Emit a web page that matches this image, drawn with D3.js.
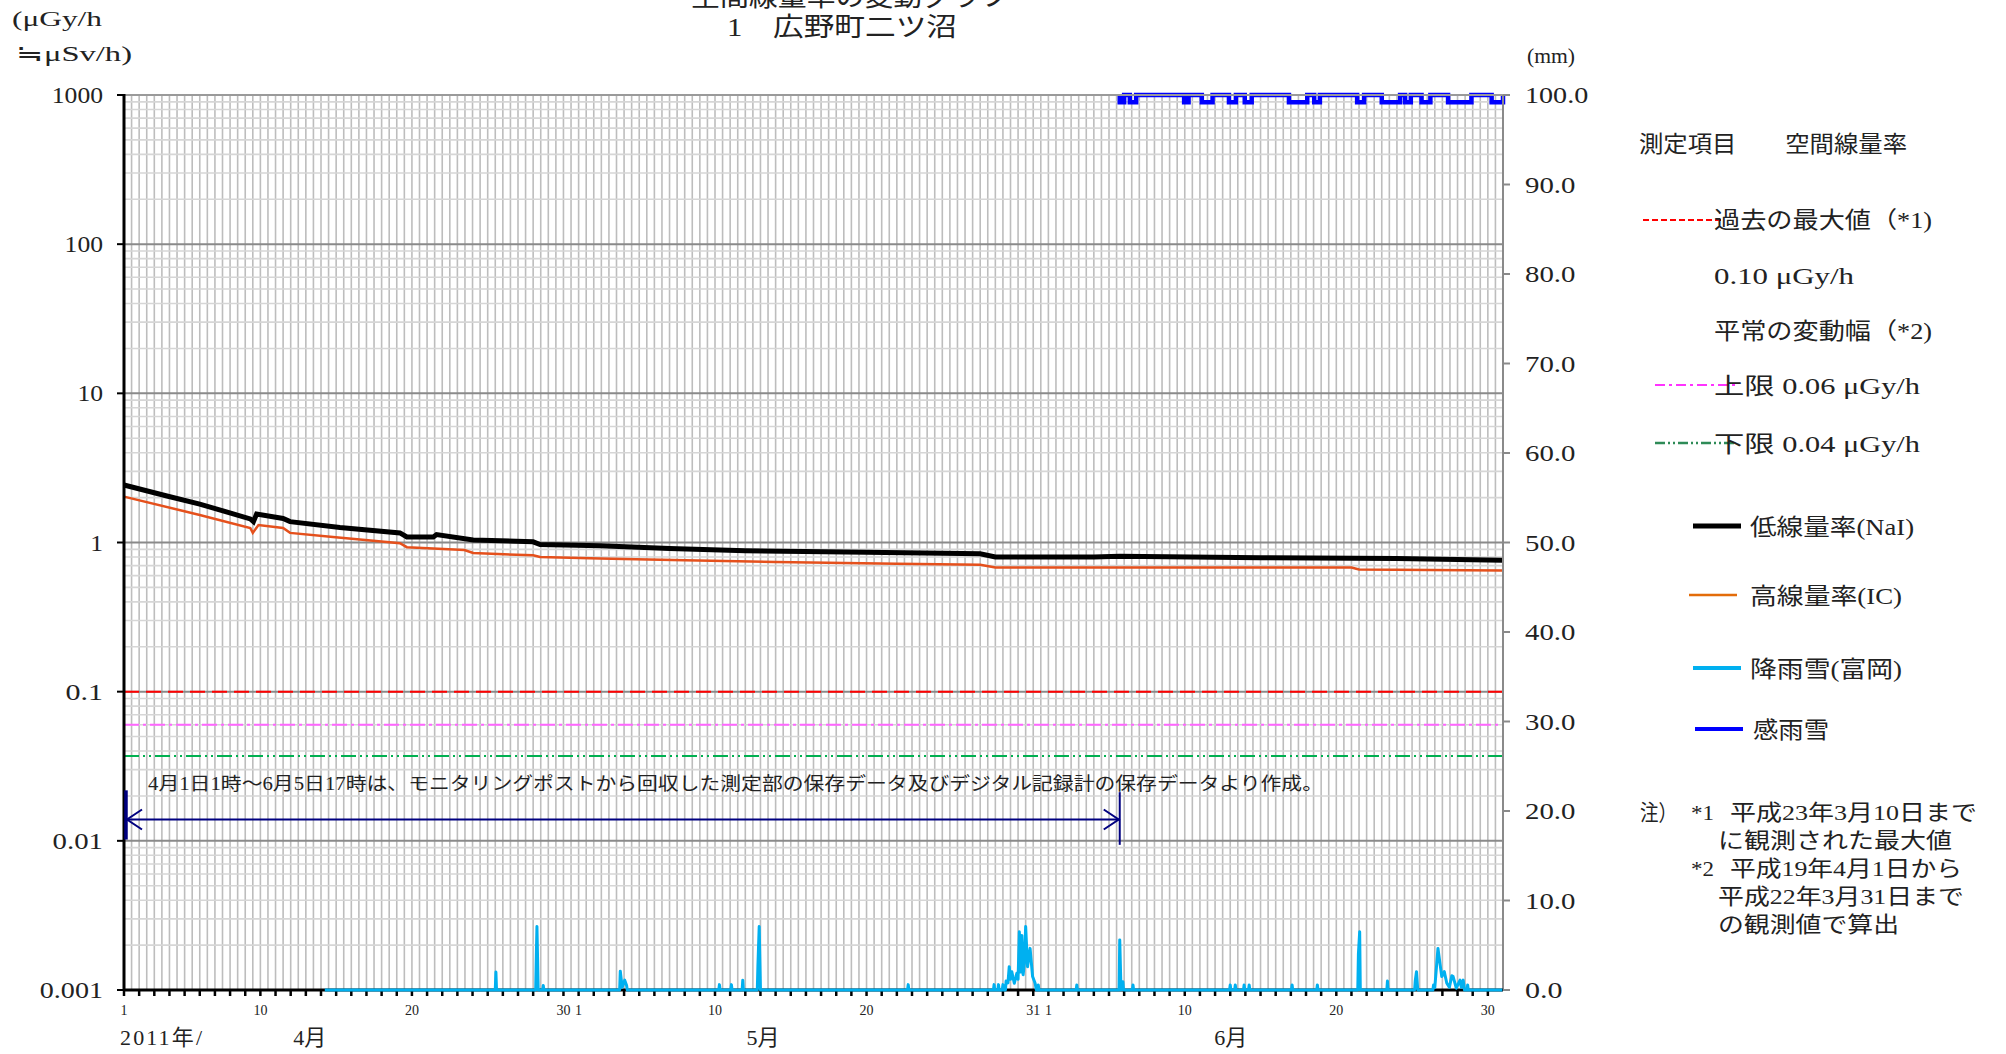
<!DOCTYPE html>
<meta charset="utf-8">
<head>
  <style>
    body { margin: 0; background: #fff; }
    text { font-family: "Liberation Serif", "Noto Sans CJK JP", serif; fill: #222; }
  </style>
  <script src="https://cdn.jsdelivr.net/npm/d3@7"></script>
</head>
<body>
<div id="chart"></div>
<script>
  // *** data (times are 2011 "M/D H")
  var nai = [
    ["4/1 0", 2.43], ["4/3 20", 2.05], ["4/6 0", 1.81], ["4/9 8", 1.44], ["4/9 13", 1.38],
    ["4/9 18", 1.55], ["4/11 12", 1.45], ["4/11 23", 1.38], ["4/15 6", 1.26], ["4/19 5", 1.16],
    ["4/19 16", 1.09], ["4/21 10", 1.09], ["4/21 15", 1.13], ["4/24 1", 1.04], ["4/28 0", 1.01],
    ["4/28 11", 0.97], ["5/2 10", 0.95], ["5/7 0", 0.91], ["5/12 0", 0.88], ["5/20 0", 0.86],
    ["5/27 12", 0.84], ["5/28 12", 0.80], ["6/4 0", 0.80], ["6/5 17", 0.81], ["6/15 0", 0.79],
    ["6/24 0", 0.78], ["6/30 23", 0.76]
  ];
  var ic = [
    ["4/1 0", 2.03], ["4/6 0", 1.53], ["4/9 8", 1.25], ["4/9 12", 1.16], ["4/9 21", 1.31],
    ["4/11 12", 1.25], ["4/11 23", 1.16], ["4/14 19", 1.09], ["4/19 5", 0.99], ["4/19 16", 0.93],
    ["4/23 11", 0.89], ["4/24 1", 0.85], ["4/28 0", 0.82], ["4/28 11", 0.80], ["5/2 10", 0.78],
    ["5/8 0", 0.76], ["5/14 0", 0.74], ["5/22 0", 0.72], ["5/27 12", 0.71], ["5/28 12", 0.68],
    ["6/10 0", 0.68], ["6/21 0", 0.68], ["6/21 12", 0.66], ["6/30 23", 0.65]
  ];
  var rain = [
    ["4/14 6", 0],
    ["4/25 12", 0], ["4/25 13", 2.0], ["4/25 14", 0],
    ["4/28 4", 0], ["4/28 5", 3.7], ["4/28 6", 7.1], ["4/28 8", 0],
    ["4/28 15", 0], ["4/28 16", 0.5], ["4/28 17", 0],
    ["5/3 17", 0], ["5/3 18", 2.1], ["5/3 21", 0.3], ["5/4 1", 1.1], ["5/4 4", 0.5], ["5/4 5", 0],
    ["5/10 6", 0], ["5/10 7", 0.6], ["5/10 8", 0],
    ["5/11 1", 0], ["5/11 2", 0.6], ["5/11 3", 0],
    ["5/11 19", 0], ["5/11 20", 1.1], ["5/11 21", 0],
    ["5/12 19", 0], ["5/12 20", 2.8], ["5/12 22", 7.1], ["5/13 0", 0],
    ["5/22 17", 0], ["5/22 18", 0.6], ["5/22 19", 0],
    ["5/28 9", 0], ["5/28 10", 0.6], ["5/28 11", 0],
    ["5/28 16", 0], ["5/28 17", 0.6], ["5/28 18", 0],
    ["5/28 23", 0], ["5/29 0", 0.6], ["5/29 1", 0],
    ["5/29 4", 0], ["5/29 5", 1.0], ["5/29 8", 0.8], ["5/29 10", 2.6], ["5/29 12", 1.2],
    ["5/29 14", 2.05], ["5/29 18", 0.75], ["5/29 22", 1.86], ["5/30 0", 1.2], ["5/30 2", 6.5],
    ["5/30 4", 2.0], ["5/30 6", 6.1], ["5/30 8", 1.7], ["5/30 10", 3.0], ["5/30 12", 7.1],
    ["5/30 15", 2.6], ["5/30 19", 4.65], ["5/30 23", 1.5], ["5/31 3", 0.75], ["5/31 5", 0],
    ["5/31 7", 0], ["5/31 8", 0.56], ["5/31 9", 0],
    ["6/2 20", 0], ["6/2 21", 0.56], ["6/2 22", 0],
    ["6/5 16", 0], ["6/5 17", 5.6], ["6/5 19", 0], ["6/5 22", 0.93], ["6/5 23", 0],
    ["6/6 13", 0], ["6/6 14", 0.56], ["6/6 15", 0],
    ["6/12 23", 0], ["6/13 0", 0.56], ["6/13 1", 0],
    ["6/13 7", 0], ["6/13 8", 0.56], ["6/13 9", 0],
    ["6/13 21", 0], ["6/13 22", 0.56], ["6/13 23", 0],
    ["6/14 5", 0], ["6/14 6", 0.56], ["6/14 7", 0],
    ["6/17 1", 0], ["6/17 2", 0.56], ["6/17 3", 0],
    ["6/18 17", 0], ["6/18 18", 0.56], ["6/18 19", 0],
    ["6/21 10", 0], ["6/21 11", 4.0], ["6/21 13", 6.5], ["6/21 14", 0],
    ["6/23 8", 0], ["6/23 9", 1.0], ["6/23 10", 0],
    ["6/25 4", 0], ["6/25 5", 1.0], ["6/25 7", 2.05], ["6/25 9", 0],
    ["6/26 9", 0], ["6/26 10", 0.56], ["6/26 12", 0.3], ["6/26 17", 4.65], ["6/26 23", 1.5],
    ["6/27 3", 2.05], ["6/27 7", 0.75], ["6/27 11", 0.3], ["6/27 15", 1.6], ["6/27 17", 1.5],
    ["6/27 22", 0.2], ["6/28 4", 1.1], ["6/28 6", 0.3], ["6/28 9", 1.1], ["6/28 11", 0],
    ["6/28 15", 0], ["6/28 16", 0.56], ["6/28 17", 0],
    ["6/30 23", 0]
  ];
  // 感雨雪: 100 while dry, lower during these spells
  var senseStart = "6/5 17", senseEnd = "7/1 0";
  var senseDips = [
    ["6/5 17", "6/6 0"], ["6/6 9", "6/6 19"], ["6/9 23", "6/10 6"], ["6/11 3", "6/11 20"],
    ["6/12 22", "6/13 9"], ["6/13 23", "6/14 10"], ["6/16 21", "6/18 2"], ["6/18 13", "6/18 22"],
    ["6/21 9", "6/21 20"], ["6/23 0", "6/24 5"], ["6/24 13", "6/24 22"], ["6/25 15", "6/26 5"],
    ["6/27 9", "6/28 22"], ["6/30 6", "7/1 0"]
  ];
  var senseHigh = 100, senseLow = 99.2;
  var maxPast = 0.10, upperLimit = 0.06, lowerLimit = 0.037;
  var leftTicks = [0.001, 0.01, 0.1, 1, 10, 100, 1000];
  var rightTicks = [0, 10, 20, 30, 40, 50, 60, 70, 80, 90, 100];
  var dayLabels = [["4/1", "1"], ["4/10", "10"], ["4/20", "20"], ["4/30", "30"], ["5/1", "1"],
    ["5/10", "10"], ["5/20", "20"], ["5/31", "31"], ["6/1", "1"], ["6/10", "10"],
    ["6/20", "20"], ["6/30", "30"]];
  var monthLabels = [["4/13 6", "4月"], ["5/13 4", "5月"], ["6/13 1", "6月"]];
  var recovered = ["4/1 0", "6/5 17"];

  // *** helpers
  var parse = d3.timeParse("%Y/%m/%d %H");
  function t(s) { return parse("2011/" + (s.indexOf(" ") < 0 ? s + " 0" : s)); }

  var W = 2006, H = 1054;
  var L = 124, R = 1503, T = 95, B = 990;

  var x = d3.scaleTime().domain([t("4/1 0"), t("7/1 0")]).range([L, R]);
  var y = d3.scaleLog().domain([0.001, 1000]).range([B, T]);
  var yR = d3.scaleLinear().domain([0, 100]).range([B, T]);

  var svg = d3.select("#chart").append("svg")
    .attr("width", W).attr("height", H)
    .style("display", "block");
  svg.append("rect").attr("width", W).attr("height", H).attr("fill", "#fff");

  // *** grid
  var grid = svg.append("g");
  grid.selectAll(".vg")
    .data(d3.timeHour.every(12).range(t("4/1 12"), t("7/1 0")))
    .enter().append("line")
    .attr("x1", function(d) { return x(d); }).attr("x2", function(d) { return x(d); })
    .attr("y1", T).attr("y2", B)
    .attr("stroke", "#bdbdbd").attr("stroke-width", 1.6);

  var minor = y.ticks().filter(function(v) { return leftTicks.indexOf(v) < 0; });
  grid.selectAll(".hg")
    .data(minor)
    .enter().append("line")
    .attr("x1", L).attr("x2", R)
    .attr("y1", function(d) { return y(d); }).attr("y2", function(d) { return y(d); })
    .attr("stroke", "#d6d6d6").attr("stroke-width", 1.6);
  grid.selectAll(".hM")
    .data(leftTicks.slice(1))
    .enter().append("line")
    .attr("x1", L).attr("x2", R)
    .attr("y1", function(d) { return y(d); }).attr("y2", function(d) { return y(d); })
    .attr("stroke", "#8a8a8a").attr("stroke-width", 2);

  // *** reference lines
  function hline(v, color, dash) {
    svg.append("line")
      .attr("x1", L).attr("x2", R).attr("y1", y(v)).attr("y2", y(v))
      .attr("stroke", color).attr("stroke-width", 2).attr("stroke-dasharray", dash);
  }
  hline(maxPast, "#ff0000", "15,7");
  hline(upperLimit, "#ff66ff", "15,4,3,4");
  hline(lowerLimit, "#00b050", "15,4,2,4,2,4");

  // *** series
  function pts(arr) { return arr.map(function(d) { return [t(d[0]), d[1]]; }); }

  var lineL = d3.line().x(function(d) { return x(d[0]); }).y(function(d) { return y(d[1]); });
  var lineR = d3.line().x(function(d) { return x(d[0]); }).y(function(d) { return yR(d[1]); });

  // sense (感雨雪) as a step series
  var sense = [[t(senseStart), senseHigh]];
  senseDips.forEach(function(p) {
    sense.push([t(p[0]), senseHigh], [t(p[0]), senseLow], [t(p[1]), senseLow], [t(p[1]), senseHigh]);
  });
  sense.push([t(senseEnd), senseHigh]);
  sense.sort(function(a, b) { return a[0] - b[0]; });
  svg.append("path").datum(sense)
    .attr("d", lineR).attr("fill", "none")
    .attr("stroke", "#0000ff").attr("stroke-width", 4.5);

  svg.append("path").datum(pts(ic))
    .attr("d", lineL).attr("fill", "none")
    .attr("stroke", "#e5501c").attr("stroke-width", 2.5);
  svg.append("path").datum(pts(nai))
    .attr("d", lineL).attr("fill", "none")
    .attr("stroke", "#000").attr("stroke-width", 5);

  // *** axes
  svg.append("line").attr("x1", L).attr("x2", R).attr("y1", T).attr("y2", T)
    .attr("stroke", "#9a9a9a").attr("stroke-width", 2);
  svg.append("line").attr("x1", R).attr("x2", R).attr("y1", T).attr("y2", B)
    .attr("stroke", "#8a8a8a").attr("stroke-width", 2);
  svg.selectAll(".rt").data(rightTicks).enter().append("line")
    .attr("x1", R).attr("x2", R + 7)
    .attr("y1", function(d) { return yR(d); }).attr("y2", function(d) { return yR(d); })
    .attr("stroke", "#8a8a8a").attr("stroke-width", 2);

  // bottom (days)
  svg.selectAll(".xt").data(d3.timeDay.range(t("4/1 0"), t("7/1 0"))).enter().append("line")
    .attr("x1", function(d) { return x(d); }).attr("x2", function(d) { return x(d); })
    .attr("y1", B).attr("y2", B + 6)
    .attr("stroke", "#000").attr("stroke-width", 2.5);
  svg.append("line").attr("x1", L).attr("x2", R).attr("y1", B).attr("y2", B)
    .attr("stroke", "#000").attr("stroke-width", 3);
  // rain (富岡) sits on top of the axis
  svg.append("path").datum(pts(rain))
    .attr("d", lineR).attr("fill", "none")
    .attr("stroke", "#00b0f0").attr("stroke-width", 3).attr("stroke-linejoin", "round");

  svg.append("line").attr("x1", L).attr("x2", L).attr("y1", T - 1).attr("y2", B + 1)
    .attr("stroke", "#000").attr("stroke-width", 3);
  svg.selectAll(".lt").data(leftTicks).enter().append("line")
    .attr("x1", L - 7).attr("x2", L)
    .attr("y1", function(d) { return y(d); }).attr("y2", function(d) { return y(d); })
    .attr("stroke", "#000").attr("stroke-width", 2);

  // label width like the wide Mincho digits
  function numWidth(s) {
    var n = 0;
    for (var i = 0; i < s.length; i++) n += (s[i] === "." ? 12 : 12.8);
    return n;
  }
  svg.selectAll(".ll").data(leftTicks).enter().append("text")
    .attr("x", 103).attr("y", function(d) { return y(d) + 8; })
    .attr("text-anchor", "end").attr("font-size", 23)
    .attr("textLength", function(d) { return numWidth(String(d)); })
    .attr("lengthAdjust", "spacingAndGlyphs")
    .text(function(d) { return String(d); });
  svg.selectAll(".rl").data(rightTicks).enter().append("text")
    .attr("x", 1525).attr("y", function(d) { return yR(d) + 8; })
    .attr("font-size", 23)
    .attr("textLength", function(d) { return numWidth(d.toFixed(1)); })
    .attr("lengthAdjust", "spacingAndGlyphs")
    .text(function(d) { return d.toFixed(1); });

  svg.selectAll(".dl").data(dayLabels).enter().append("text")
    .attr("x", function(d) { return x(t(d[0])); }).attr("y", 1015)
    .attr("text-anchor", "middle").attr("font-size", 14)
    .text(function(d) { return d[1]; });
  svg.selectAll(".ml").data(monthLabels).enter().append("text")
    .attr("x", function(d) { return x(t(d[0])); }).attr("y", 1045)
    .attr("text-anchor", "middle").attr("font-size", 22)
    .text(function(d) { return d[1]; });
  svg.append("text").attr("x", 120).attr("y", 1045).attr("font-size", 22)
    .attr("textLength", 82).text("2011年/");

  // *** titles and units
  function label(str, px, py, size, len) {
    var e = svg.append("text").attr("x", px).attr("y", py).attr("font-size", size).text(str);
    if (len) e.attr("textLength", len).attr("lengthAdjust", "spacingAndGlyphs");
    return e;
  }
  label("空間線量率の変動グラフ", 691, 6, 26, 318);
  label("1　広野町二ツ沼", 727, 36, 26, 230);
  label("(μGy/h", 12, 26, 21, 90);
  label("≒μSv/h)", 16, 61, 21, 116);
  label("(mm)", 1527, 63, 22, 48);

  // *** recovered-data note with arrow
  var navy = "#000080";
  var ax0 = x(t(recovered[0])) + 2, ax1 = x(t(recovered[1]));
  var ay = y(0.0139);
  svg.append("line").attr("x1", ax0).attr("x2", ax0).attr("y1", y(0.0218)).attr("y2", y(0.0102))
    .attr("stroke", navy).attr("stroke-width", 3.5);
  svg.append("line").attr("x1", ax1).attr("x2", ax1).attr("y1", y(0.0212)).attr("y2", y(0.0094))
    .attr("stroke", navy).attr("stroke-width", 2);
  svg.append("line").attr("x1", ax0).attr("x2", ax1).attr("y1", ay).attr("y2", ay)
    .attr("stroke", navy).attr("stroke-width", 2);
  svg.append("path")
    .attr("d", "M" + (ax0 + 16) + "," + (ay - 10) + "L" + (ax0 + 1) + "," + ay + "L" + (ax0 + 16) + "," + (ay + 10))
    .attr("fill", "none").attr("stroke", navy).attr("stroke-width", 2);
  svg.append("path")
    .attr("d", "M" + (ax1 - 16) + "," + (ay - 10) + "L" + (ax1 - 1) + "," + ay + "L" + (ax1 - 16) + "," + (ay + 10))
    .attr("fill", "none").attr("stroke", navy).attr("stroke-width", 2);
  label("4月1日1時～6月5日17時は、モニタリングポストから回収した測定部の保存データ及びデジタル記録計の保存データより作成。",
    148, 790, 18, 1175);

  // *** legend
  var lg = svg.append("g");
  function lgLine(x1, x2, ly, color, w, dash) {
    lg.append("line").attr("x1", x1).attr("x2", x2).attr("y1", ly).attr("y2", ly)
      .attr("stroke", color).attr("stroke-width", w).attr("stroke-dasharray", dash || null);
  }
  label("測定項目　　空間線量率", 1639, 152, 23, 268);
  lgLine(1643, 1723, 220, "#ff0000", 2, "6,3");
  label("過去の最大値（*1)", 1714, 228, 23, 218);
  label("0.10 μGy/h", 1714, 284, 23, 140);
  label("平常の変動幅（*2)", 1714, 339, 23, 218);
  lgLine(1655, 1738, 385, "#ff33ff", 2, "10,4,3,4");
  label("上限 0.06 μGy/h", 1714, 394, 23, 206);
  lgLine(1655, 1737, 443, "#2e8b57", 2.5, "10,3,2,3,2,3");
  label("下限 0.04 μGy/h", 1714, 452, 23, 206);

  lgLine(1693, 1741, 526, "#000", 5);
  label("低線量率(NaI)", 1750, 535, 23, 164);
  lgLine(1689, 1737, 595, "#e36c0a", 2.5);
  label("高線量率(IC)", 1750, 604, 23, 152);
  lgLine(1693, 1741, 668, "#00b0f0", 4);
  label("降雨雪(富岡)", 1750, 677, 23, 152);
  lgLine(1695, 1743, 729, "#0000ff", 4);
  label("感雨雪", 1753, 738, 23, 76);

  label("注）", 1640, 820, 22, 37);
  label("*1", 1691, 820, 22, 23);
  label("平成23年3月10日まで", 1730, 820, 22, 247);
  label("に観測された最大値", 1718, 848, 22, 234);
  label("*2", 1691, 876, 22, 23);
  label("平成19年4月1日から", 1730, 876, 22, 232);
  label("平成22年3月31日まで", 1718, 904, 22, 246);
  label("の観測値で算出", 1718, 932, 22, 181);
</script>
</body>
